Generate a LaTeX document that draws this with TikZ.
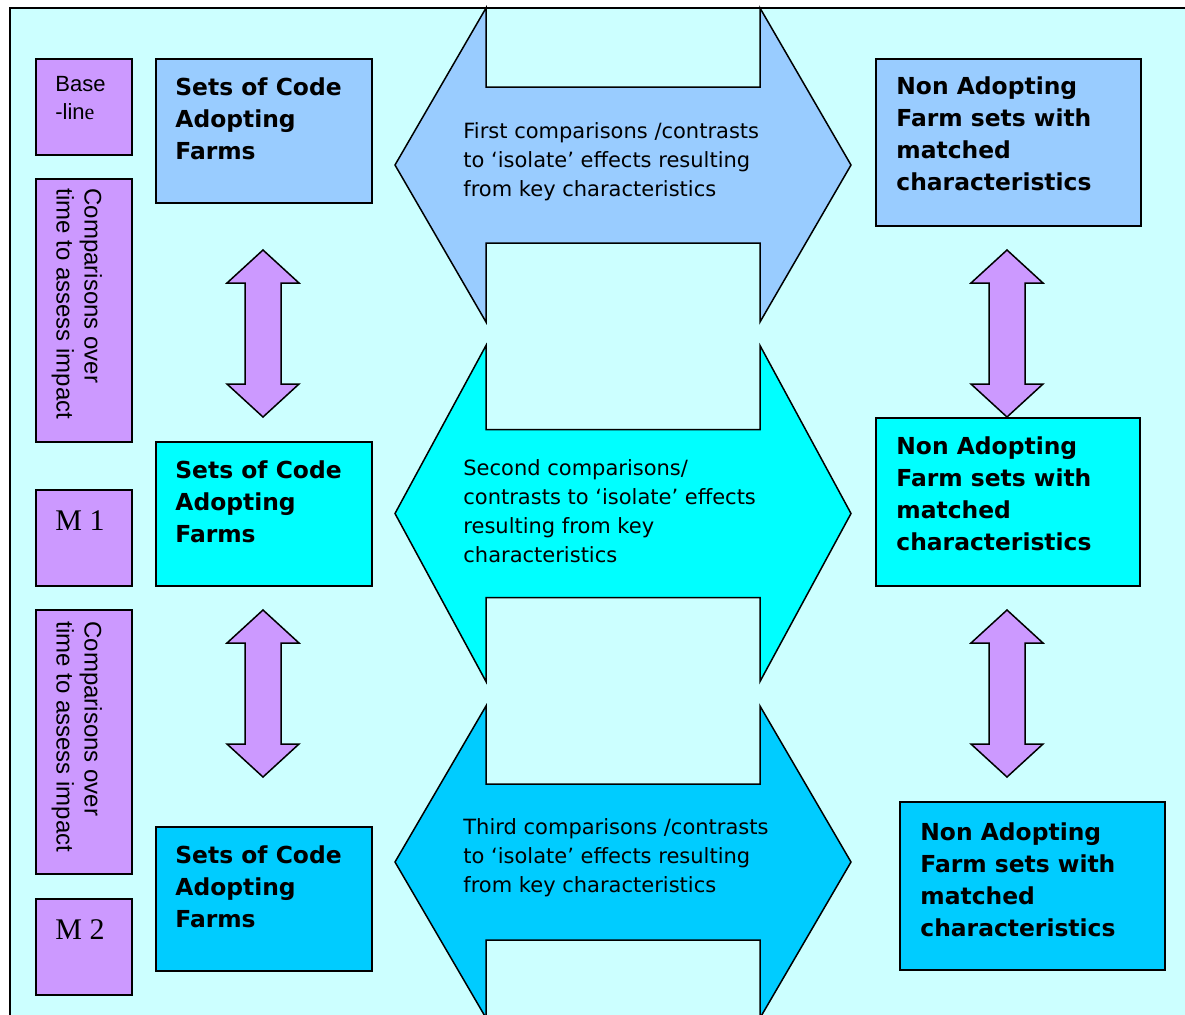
\documentclass[tikz,border=0pt]{standalone}
\usepackage{fontspec}
\setmainfont{DejaVu Sans}
\newfontfamily\arialfont{Liberation Sans}
\newfontfamily\timesfont{Liberation Serif}
\usetikzlibrary{positioning}
\definecolor{paleaqua}{HTML}{CCFFFF}
\definecolor{lilac}{HTML}{CC99FF}
\definecolor{skyfill}{HTML}{99CCFF}
\definecolor{aquafill}{HTML}{00FFFF}
\definecolor{deepsky}{HTML}{00CCFF}
\tikzset{farmbox/.style = {draw, line width=1pt, inner sep=0, anchor=north west}}
\tikzset{periodbox/.style = {farmbox, fill=lilac, minimum width=48pt}}
\tikzset{adoptbox/.style = {farmbox, minimum width=108pt, minimum height=71.75pt}}
\tikzset{nonadoptbox/.style = {farmbox, minimum width=132.5pt, minimum height=84pt}}
\tikzset{boldtext/.style = {font=\bfseries\fontsize{11.7}{16}\selectfont, align=left, inner sep=0}}
\tikzset{arrowtext/.style = {font=\fontsize{10.5}{14.5}\selectfont, align=left, inner sep=0, anchor=north west}}
\tikzset{overtext/.style = {font=\arialfont\fontsize{12}{14}\selectfont, align=left, inner sep=0,
                            rotate=-90, anchor=north west}}
\tikzset{blockarrow/.style = {draw, line width=0.75pt, line join=miter}}

\begin{document}
\begin{tikzpicture}[x=0.5pt, y=-0.5pt]
    \useasboundingbox (0,0) rectangle (1185,1014);
    \clip (0,0) rectangle (1185,1014);
    \draw [line width=1pt, fill=paleaqua] (10,8) rectangle (1200,1030);
    % comparison arrows in the middle
    \foreach \cy/\hs/\hh/\col in {165/78/157/skyfill, 513.5/84/168/aquafill, 862/78/156/deepsky} {
        \draw [blockarrow, fill=\col] (395,\cy) -- (486,{\cy-\hh}) -- (486,{\cy-\hs}) -- (760,{\cy-\hs})
            -- (760,{\cy-\hh}) -- (851,\cy) -- (760,{\cy+\hh}) -- (760,{\cy+\hs}) -- (486,{\cy+\hs})
            -- (486,{\cy+\hh}) -- cycle;
    }
    \node [arrowtext] (first) at (463,122) {First comparisons /contrasts\\to ‘isolate’ effects resulting\\from key characteristics};
    \node [arrowtext] (second) at (463,459) {Second comparisons/\\contrasts to ‘isolate’ effects\\resulting from key\\characteristics};
    \node [arrowtext] (third) at (463,818) {Third comparisons /contrasts\\to ‘isolate’ effects resulting\\from key characteristics};

    % time line on the left
    \node [periodbox, minimum height=48pt] (base) at (35,58) {};
    \node [periodbox, minimum height=131.5pt] (overtime1) at (35,178) {};
    \node [periodbox, minimum height=48pt] (m1) at (35,489) {};
    \node [periodbox, minimum height=132pt] (overtime2) at (35,609) {};
    \node [periodbox, minimum height=48pt] (m2) at (35,898) {};
    \node [font=\arialfont\fontsize{11}{14}\selectfont, align=left, inner sep=0, anchor=north west]
        (basetxt) at ([shift={(20,18)}]base.north west) {Base\\-lin{\timesfont e}};
    \node [overtext] (overtime1txt) at ([shift={(67.5,10)}]overtime1.north west) {Comparisons over\\time to assess impact};
    \node [overtext] (overtime2txt) at ([shift={(67.5,12)}]overtime2.north west) {Comparisons over\\time to assess impact};
    \node [font=\timesfont\fontsize{15}{18}\selectfont, inner sep=0, anchor=base west]
        (m1txt) at ([shift={(20,41)}]m1.north west) {M 1};
    \node [font=\timesfont\fontsize{15}{18}\selectfont, inner sep=0, anchor=base west]
        (m2txt) at ([shift={(20,41)}]m2.north west) {M 2};

    % adopting farms
    \node [adoptbox, fill=skyfill] (adopt1) at (155,58) {};
    \node [adoptbox, fill=aquafill] (adopt2) at (155,441) {};
    \node [adoptbox, fill=deepsky] (adopt3) at (155,826) {};
    \foreach \b in {adopt1, adopt2, adopt3} {
        \node [boldtext, below right=9.6pt and 10pt of \b.north west] (\b txt) {Sets of Code\\Adopting\\Farms};
    }

    % non adopting farms
    \node [nonadoptbox, fill=skyfill, minimum height=83.5pt] (nonadopt1) at (875,58) {};
    \node [nonadoptbox, fill=aquafill, minimum width=132pt] (nonadopt2) at (875,417) {};
    \node [nonadoptbox, fill=deepsky] (nonadopt3) at (899,801) {};
    \foreach \b/\dy in {nonadopt1/9.25, nonadopt2/9.6, nonadopt3/10.8} {
        \node [boldtext, below right=\dy pt and 10.5pt of \b.north west] (\b txt)
            {Non Adopting\\Farm sets with\\matched\\characteristics};
    }

    % purple up/down arrows
    \foreach \cx/\ty in {263/250, 263/610, 1007/250, 1007/610} {
        \draw [blockarrow, fill=lilac] (\cx,\ty) -- ({\cx+36},{\ty+33}) -- ({\cx+18},{\ty+33})
            -- ({\cx+18},{\ty+134}) -- ({\cx+36},{\ty+134}) -- (\cx,{\ty+167}) -- ({\cx-36},{\ty+134})
            -- ({\cx-18},{\ty+134}) -- ({\cx-18},{\ty+33}) -- ({\cx-36},{\ty+33}) -- cycle;
    }
\end{tikzpicture}
\end{document}
